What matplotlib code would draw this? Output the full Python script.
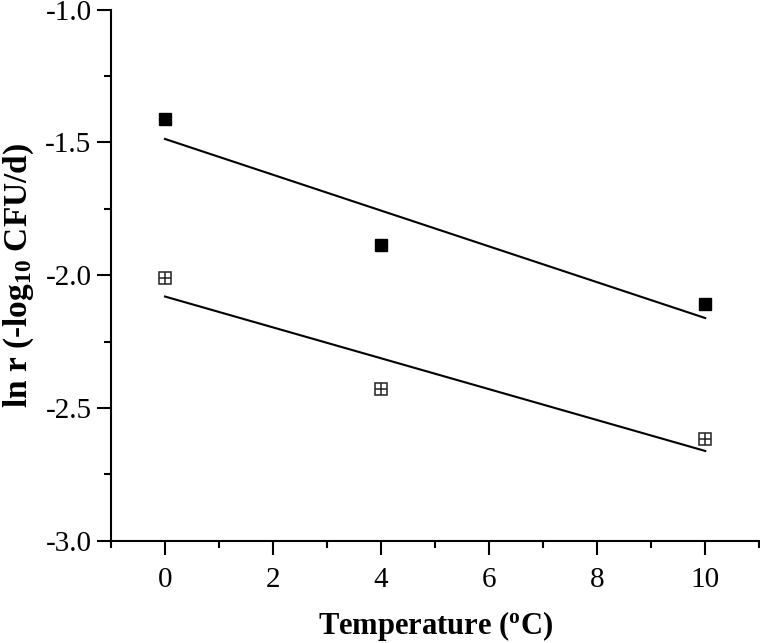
import numpy as np
import matplotlib
matplotlib.use('Agg')
import matplotlib.pyplot as plt
from matplotlib.ticker import MultipleLocator

plt.rcParams['font.family'] = 'Liberation Serif'
plt.rcParams['mathtext.fontset'] = 'custom'
plt.rcParams['mathtext.rm'] = 'Liberation Serif'
plt.rcParams['mathtext.bf'] = 'Liberation Serif:bold'
plt.rcParams['mathtext.it'] = 'Liberation Serif:italic'

# data
temps = [0, 4, 10]
ln_r_filled = [-1.41, -1.885, -2.11]
ln_r_open = [-2.01, -2.43, -2.615]

fig = plt.figure(figsize=(7.6, 6.43), dpi=100)
ax = fig.add_axes([0.146, 0.159, 0.853, 0.826])

# linear fits
for ys in (ln_r_filled, ln_r_open):
    k, b = np.polyfit(temps, ys, 1)
    xx = np.array([temps[0], temps[-1]])
    ax.plot(xx, k * xx + b, color='black', lw=1.5, zorder=2)

ax.plot(temps, ln_r_filled, 's', color='black', ms=8.5, zorder=3)
ax.plot(temps, ln_r_open, 's', mfc='white', mec='#222222', mew=1.1, ms=8.5, zorder=3)
ax.plot(temps, ln_r_open, '+', color='#222222', mew=1.1, ms=8.5, zorder=4)

ax.set_xlim(-1, 11)
ax.set_ylim(-3.0, -1.0)
ax.xaxis.set_major_locator(MultipleLocator(2))
ax.xaxis.set_minor_locator(MultipleLocator(1))
ax.yaxis.set_major_locator(MultipleLocator(0.5))
ax.yaxis.set_minor_locator(MultipleLocator(0.25))
ax.yaxis.set_major_formatter(matplotlib.ticker.FormatStrFormatter('%.1f'))

for s in ['top', 'right']:
    ax.spines[s].set_visible(False)
for s in ['left', 'bottom']:
    ax.spines[s].set_linewidth(1.5)

ax.tick_params(which='major', direction='out', length=10, width=1.5, labelsize=21, pad=4)
ax.tick_params(which='minor', direction='out', length=5, width=1.5)
ax.tick_params(axis='x', pad=9)

ax.set_xlabel('Temperature ($\\mathbf{^{o}}$C)', fontsize=22, fontweight='bold')
ax.set_ylabel('ln r (-log$\\mathbf{_{10}}$ CFU/d)', fontsize=24, fontweight='bold')
ax.xaxis.set_label_coords(0.5, -0.128)
ax.yaxis.set_label_coords(-0.115, 0.5)

fig.savefig('out.png', dpi=100)
